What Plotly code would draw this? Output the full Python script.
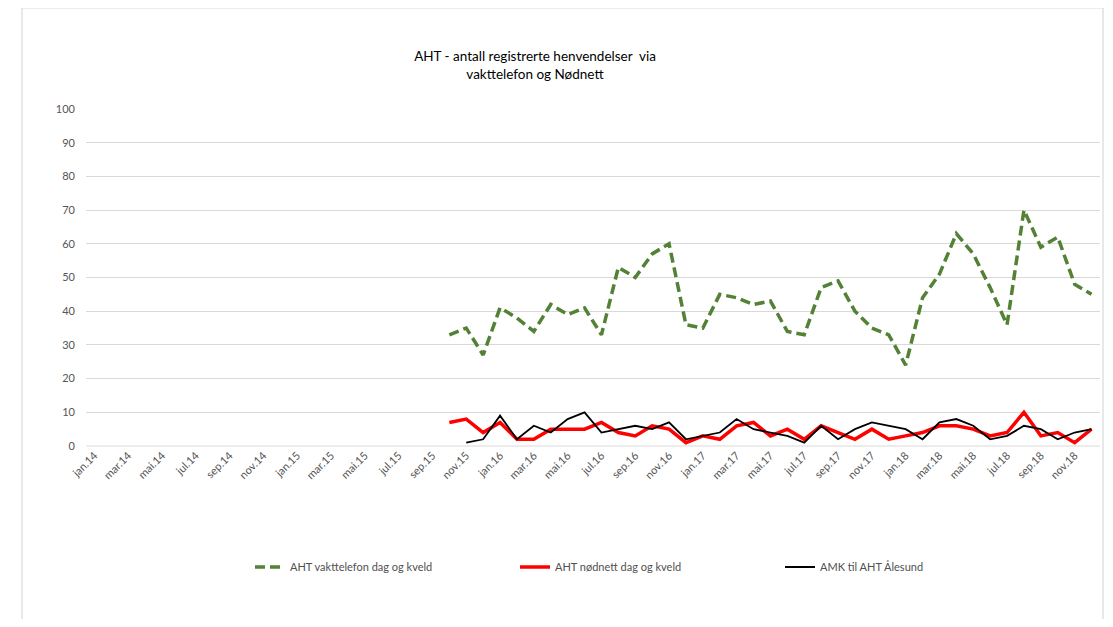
import plotly.graph_objects as go

months = ["jan", "feb", "mar", "apr", "mai", "jun", "jul", "aug", "sep", "okt", "nov", "des"]
categories = [f"{m}.{y}" for y in ["14", "15", "16", "17", "18"] for m in months]

# AHT vakttelefon dag og kveld: okt.15 .. des.18
vakttelefon = [33, 35, 27, 41, 38, 34, 42, 39, 41, 33, 53, 50, 57, 60, 36, 35, 45, 44, 42, 43,
               34, 33, 47, 49, 40, 35, 33, 24, 44, 51, 63, 57, 47, 36, 70, 59, 62, 48, 45]
# AHT nødnett dag og kveld: okt.15 .. des.18
nodnett = [7, 8, 4, 7, 2, 2, 5, 5, 5, 7, 4, 3, 6, 5, 1, 3, 2, 6, 7, 3,
           5, 2, 6, 4, 2, 5, 2, 3, 4, 6, 6, 5, 3, 4, 10, 3, 4, 1, 5]
# AMK til AHT Ålesund: nov.15 .. des.18
amk = [1, 2, 9, 2, 6, 4, 8, 10, 4, 5, 6, 5, 7, 2, 3, 4, 8, 5, 4,
       3, 1, 6, 2, 5, 7, 6, 5, 2, 7, 8, 6, 2, 3, 6, 5, 2, 4, 5]

start_okt15 = categories.index("okt.15")
start_nov15 = categories.index("nov.15")

x_vt = list(range(start_okt15, start_okt15 + len(vakttelefon)))
x_nn = list(range(start_okt15, start_okt15 + len(nodnett)))
x_amk = list(range(start_nov15, start_nov15 + len(amk)))

fig = go.Figure()
fig.add_trace(go.Scatter(x=x_vt, y=vakttelefon, mode="lines", name="AHT vakttelefon dag og kveld",
                         line=dict(color="#538135", width=3.5, dash="10px,5px")))
fig.add_trace(go.Scatter(x=x_nn, y=nodnett, mode="lines", name="AHT nødnett dag og kveld",
                         line=dict(color="#ff0000", width=3.5)))
fig.add_trace(go.Scatter(x=x_amk, y=amk, mode="lines", name="AMK til AHT Ålesund",
                         line=dict(color="#000000", width=1.8)))

tickvals = list(range(0, len(categories), 2))
ticktext = [categories[i] for i in tickvals]

W, H = 1097, 611  # page body has an 8px margin
fig.update_layout(
    width=W, height=H,
    margin=dict(l=78, r=5, t=101, b=173, autoexpand=False),
    paper_bgcolor="white", plot_bgcolor="white",
    font=dict(family="Lato, Open Sans, sans-serif", color="#595959", size=11),
    title=dict(text="AHT - antall registrerte henvendelser  via<br>vakttelefon og Nødnett",
               x=527 / W, xanchor="center", y=1 - 53 / H, yanchor="middle",
               font=dict(size=13.5, color="#000000", family="Lato, Open Sans, sans-serif")),
    xaxis=dict(range=[-0.5, len(categories) - 0.5], tickvals=tickvals, ticktext=ticktext,
               tickangle=-45, showgrid=False, zeroline=False, showline=False, ticks="",
               automargin=False, tickfont=dict(size=11, color="#555555")),
    yaxis=dict(range=[0, 100], dtick=10, showgrid=True, gridcolor="#d9d9d9", gridwidth=1,
               zeroline=False, showline=False, ticks="", ticklabelstandoff=10,
               automargin=False, tickfont=dict(size=11, color="#555555")),
    showlegend=True,
    legend=dict(orientation="h", x=(250 - 86) / 1014, xanchor="left", y=-0.359, yanchor="middle",
                entrywidth=220, entrywidthmode="pixels", font=dict(size=11, color="#505050")),
)

fig.add_shape(type="line", xref="paper", yref="paper", x0=0, x1=1, y0=0, y1=0,
              line=dict(color="#d9d9d9", width=1), layer="below")
fig.add_shape(type="rect", xref="paper", yref="paper",
              x0=(22 - 86) / 1014, x1=(1103 - 86) / 1014,
              y0=(446 - 640) / 337, y1=(446 - 8) / 337,
              line=dict(color="#d9d9d9", width=1.2), fillcolor="rgba(0,0,0,0)", layer="below")

fig.write_html("out.html")
